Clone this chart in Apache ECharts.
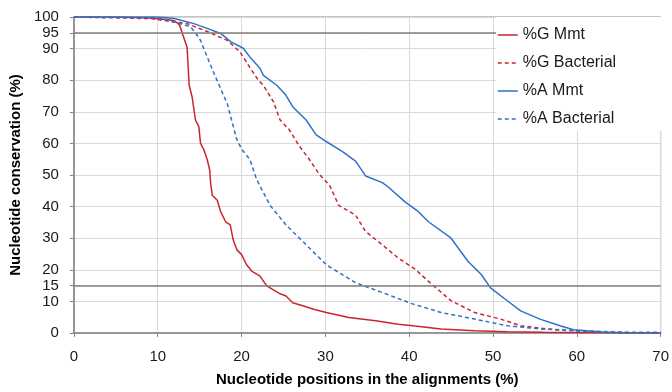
<!DOCTYPE html>
<html>
<head>
<meta charset="utf-8">
<script src="https://cdn.jsdelivr.net/npm/echarts@6/dist/echarts.min.js"></script>
<style>html,body{margin:0;padding:0;background:#fff}#c{width:672px;height:392px}</style>
</head>
<body>
<div id="c"></div>
<script>
var seriesNames = ['%G Mmt', '%G Bacterial', '%A Mmt', '%A Bacterial'];
var yTickLabels = [0, 10, 15, 20, 30, 40, 50, 60, 70, 80, 90, 95, 100];
var refLines = [15, 95];
var xTickLabels = [0, 10, 20, 30, 40, 50, 60, 70];

var gMmtX = [0, 5, 9, 11, 12, 12.6, 13.1, 13.5, 13.75, 14.1, 14.5, 14.9, 15.1, 15.5, 15.9, 16.2, 16.3, 16.5, 17.1, 17.5, 18.1, 18.65, 19.0, 19.45, 20.0, 20.6, 21.2, 22.2, 23.0, 24.6, 25.3, 26.1, 27.3, 28.5, 30.1, 32.8, 36.0, 38.7, 40.7, 43.8, 47.8, 51.7, 56, 60, 65, 70];
var gMmtY = [100, 100, 99.7, 99.2, 98.8, 97.5, 93.5, 90.4, 78.4, 74.7, 67.4, 65.3, 60.1, 58, 54.9, 51.5, 47.7, 43.6, 42, 38.4, 35.2, 34.2, 29.5, 26.3, 24.8, 21.6, 19.6, 18.0, 14.9, 12.4, 11.7, 9.6, 8.6, 7.6, 6.5, 4.9, 3.9, 2.8, 2.2, 1.3, 0.75, 0.4, 0.25, 0.15, 0.05, 0];

var gBacX = [0, 3.3, 9.2, 12, 13.5, 15.9, 18.3, 19.8, 21.0, 22.0, 22.6, 23.8, 24.6, 25.7, 26.9, 28.1, 29.2, 30.5, 31.6, 33.6, 34.8, 36.8, 38.7, 40.7, 42.7, 45.0, 47.8, 50.9, 53.3, 56.4, 59.6, 62, 65, 70];
var gBacY = [100, 99.8, 99.5, 98.4, 97.9, 95.4, 92.6, 89, 84, 80, 78.4, 73.2, 67.4, 64.3, 59.1, 54.9, 50.5, 46.7, 40.4, 37.3, 32.1, 27.9, 23.7, 20.2, 15.4, 10.2, 6.5, 4.4, 2.3, 1.3, 0.75, 0.3, 0.1, 0];

var aMmtX = [0, 10, 12, 12.75, 14.3, 15.9, 17.5, 18.7, 20.2, 21.0, 22.2, 22.6, 24.2, 25.3, 26.1, 27.7, 28.9, 30.1, 32.0, 33.6, 34.8, 36.8, 37.5, 39.5, 41.1, 42.3, 45.0, 47.0, 48.6, 49.7, 51.7, 53.3, 55.6, 58.0, 59.6, 61.2, 63, 66, 70];
var aMmtY = [100, 100, 99.5, 99, 97.9, 96.4, 94.8, 92.2, 90.1, 87.3, 83.8, 81.5, 78.4, 75.2, 71.6, 67.4, 62.7, 60.6, 57.5, 54.4, 49.7, 47.6, 46.2, 41.5, 38.4, 35.2, 30.0, 22.7, 18.5, 14.3, 10.2, 7.0, 4.4, 2.3, 1.0, 0.75, 0.3, 0.1, 0];

var aBacX = [0, 10, 12, 13.9, 14.5, 15.1, 16.7, 18.3, 19.4, 20.0, 21.0, 21.8, 22.2, 23.4, 25.3, 27.3, 30.1, 33.6, 36.8, 40.3, 43.8, 47.8, 51.7, 55.6, 59.6, 65, 70];
var aBacY = [100, 99.8, 98.4, 96.9, 95, 92.6, 82.2, 72.5, 61.5, 58.2, 54.9, 48.6, 46.5, 40.4, 34.2, 29.0, 21.6, 15.9, 12.8, 9.3, 6.5, 4.4, 2.3, 1.3, 0.75, 0.3, 0.2];

function pairs(xs, ys) { return xs.map(function (x, i) { return [x, ys[i]]; }); }

var RED = '#c8262d', BLUE = '#2c72c9';
var FONT = '"Liberation Sans", Arial, sans-serif';

function mkSeries(name, xs, ys, color, dashed, extra) {
  var s = {
    name: name, type: 'line', data: pairs(xs, ys), symbol: 'none', showSymbol: false,
    lineStyle: { color: color, width: 1.5, type: dashed ? [4, 3] : 'solid' },
    itemStyle: { color: color }, animation: false, z: 3
  };
  if (extra) for (var k in extra) s[k] = extra[k];
  return s;
}

var chart = echarts.init(document.getElementById('c'), null, { renderer: 'canvas' });
chart.setOption({
  animation: false,
  backgroundColor: '#fff',
  textStyle: { fontFamily: FONT },
  grid: { left: 72, right: 7, top: 17, bottom: 56, show: true, borderColor: '#868686', borderWidth: 1, containLabel: false },
  legend: {
    orient: 'vertical', left: 496, top: 17,
    data: seriesNames,
    itemWidth: 20, itemHeight: 14, itemGap: 12,
    padding: [10, 46, 4, 1],
    backgroundColor: '#fff',
    itemStyle: { opacity: 0 },
    lineStyle: { width: 1.5 },
    textStyle: { fontFamily: FONT, fontSize: 16, color: '#1a1a1a' },
    z: 10
  },
  xAxis: {
    type: 'value', min: 0, max: 70, interval: 10,
    name: 'Nucleotide positions in the alignments (%)', nameLocation: 'middle', nameGap: 39,
    nameTextStyle: { fontFamily: FONT, fontSize: 15, fontWeight: 'bold', color: '#000' },
    axisLine: { show: true, lineStyle: { color: '#868686', width: 1.5 } },
    axisTick: { show: true, inside: false, length: 4, lineStyle: { color: '#868686' } },
    axisLabel: { customValues: xTickLabels, fontFamily: FONT, fontSize: 15, color: '#1a1a1a', margin: 16 },
    splitLine: { show: true, lineStyle: { color: '#d9d9d9', width: 1 } }
  },
  yAxis: {
    type: 'value', min: 0, max: 100, interval: 10,
    name: 'Nucleotide conservation (%)', nameLocation: 'middle', nameGap: 47,
    nameTextStyle: { fontFamily: FONT, fontSize: 15, fontWeight: 'bold', color: '#000' },
    axisLine: { show: true, lineStyle: { color: '#868686', width: 1.5 } },
    axisTick: { show: true, inside: false, length: 4, customValues: yTickLabels, lineStyle: { color: '#868686' } },
    axisLabel: { customValues: yTickLabels, fontFamily: FONT, fontSize: 15, color: '#1a1a1a', margin: 15 },
    splitLine: { show: true, lineStyle: { color: '#d9d9d9', width: 1 } }
  },
  series: [
    mkSeries(seriesNames[0], gMmtX, gMmtY, RED, false, {
      markLine: {
        silent: true, symbol: ['none', 'none'], label: { show: false },
        lineStyle: { color: '#7f7f7f', width: 1.5, type: 'solid' },
        data: refLines.map(function (v) { return { yAxis: v }; }),
        animation: false
      }
    }),
    mkSeries(seriesNames[1], gBacX, gBacY, RED, true),
    mkSeries(seriesNames[2], aMmtX, aMmtY, BLUE, false),
    mkSeries(seriesNames[3], aBacX, aBacY, BLUE, true)
  ]
});
</script>
</body>
</html>
